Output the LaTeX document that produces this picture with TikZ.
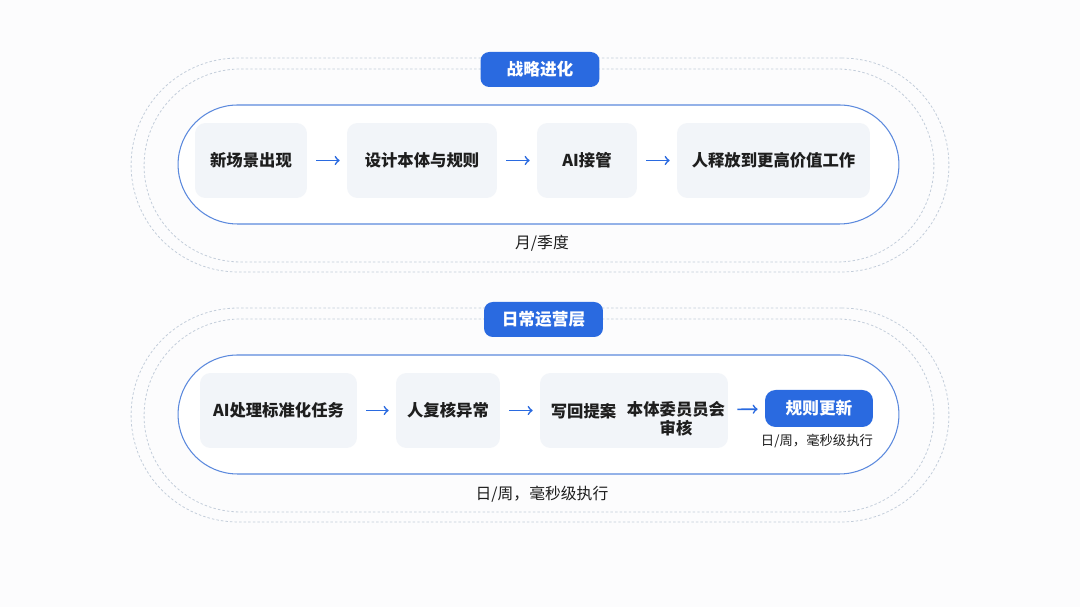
\documentclass[tikz,border=0pt]{standalone}
\usepackage{fontspec}
\setmainfont{Noto Sans CJK SC}
\usepackage{tikz}
\usetikzlibrary{arrows, positioning}
\definecolor{mainblue}{HTML}{2A6AE0}
\definecolor{lineblue}{HTML}{5B89DD}
\definecolor{ringgray}{HTML}{C3CDDA}
\definecolor{stepfill}{HTML}{F2F5F9}
\definecolor{textdark}{HTML}{1E1E1E}
\definecolor{bgwhite}{HTML}{FCFCFD}

\begin{document}
\begin{tikzpicture}[x=0.02cm, y=-0.02cm,
        ring/.style={rectangle, draw=ringgray, line width=0.45pt, dash pattern=on 1.4pt off 1.2pt},
        pill/.style={rectangle, draw=lineblue, line width=0.6pt, fill=white, minimum width=14.42cm, minimum height=2.38cm, rounded corners=1.19cm},
        layer/.style={rectangle, fill=mainblue, text=white, rounded corners=5pt, minimum width=2.38cm, minimum height=0.70cm, font=\fontsize{9.5pt}{11pt}\selectfont\bfseries},
        stepbox/.style={rectangle, fill=stepfill, rounded corners=6pt, minimum height=1.5cm, text=textdark, align=center, font=\fontsize{9.3pt}{11pt}\selectfont\bfseries},
        result/.style={rectangle, fill=mainblue, text=white, rounded corners=6pt, minimum width=2.16cm, minimum height=0.74cm, font=\fontsize{9.5pt}{11pt}\selectfont\bfseries},
        caption/.style={text=textdark, font=\fontsize{9pt}{10pt}\selectfont},
        arrow/.style={->, >=to, line width=0.95pt, color=mainblue, shorten <=0.18cm, shorten >=0.14cm}
    ]
        \useasboundingbox[fill=bgwhite] (0,0) rectangle (1080,607);

        % 战略进化
        \node[ring, minimum width=16.36cm, minimum height=4.28cm, rounded corners=2.14cm] (stratOuter) at (540,165) {};
        \node[ring, minimum width=15.8cm, minimum height=3.86cm, rounded corners=1.93cm] (stratInner) at (539,165.5) {};
        \node[pill] (stratPill) at (538.5,164.5) {};
        \node[layer] (stratTitle) at (540,69.5) {战略进化};

        \node[stepbox, minimum width=2.24cm] (newScene) at (251,160.5) {新场景出现};
        \node[stepbox, minimum width=3.0cm] (design) at (422,160.5) {设计本体与规则};
        \node[stepbox, minimum width=2.0cm] (aiTake) at (587,160.5) {AI接管};
        \node[stepbox, minimum width=3.86cm] (release) at (773.5,160.5) {人释放到更高价值工作};
        \node[caption] (stratFreq) at (542,243) {月/季度};

        \draw[arrow] (newScene) -- (design);
        \draw[arrow] (design) -- (aiTake);
        \draw[arrow] (aiTake) -- (release);

        % 日常运营层
        \node[ring, minimum width=16.36cm, minimum height=4.28cm, rounded corners=2.14cm] (opsOuter) at (540,415) {};
        \node[ring, minimum width=15.8cm, minimum height=3.86cm, rounded corners=1.93cm] (opsInner) at (539,415.5) {};
        \node[pill] (opsPill) at (538.5,414.5) {};
        \node[layer] (opsTitle) at (543.5,319.5) {日常运营层};

        \node[stepbox, minimum width=3.14cm] (aiTask) at (278.5,410.5) {AI处理标准化任务};
        \node[stepbox, minimum width=2.08cm] (review) at (448,410.5) {人复核异常};
        \node[stepbox, minimum width=3.76cm] (proposal) at (634,410.5) {};
        \node[text=textdark, font=\fontsize{9.3pt}{11pt}\selectfont\bfseries] (writeBack) at (583.5,411) {写回提案};
        \node[text=textdark, align=center, font=\fontsize{9.3pt}{11pt}\selectfont\bfseries] (committee) at (676,419) {本体委员员会\\审核};
        \node[result] (ruleUpdate) at (819,408.5) {规则更新};
        \node[caption, font=\fontsize{7.6pt}{9pt}\selectfont] (ruleFreq) at (817,441) {日/周，毫秒级执行};
        \node[caption] (opsFreq) at (542,494) {日/周，毫秒级执行};

        \draw[arrow] (aiTask) -- (review);
        \draw[arrow] (review) -- (proposal);
        \draw[arrow] (proposal) -- (ruleUpdate);
    \end{tikzpicture}
\end{document}
